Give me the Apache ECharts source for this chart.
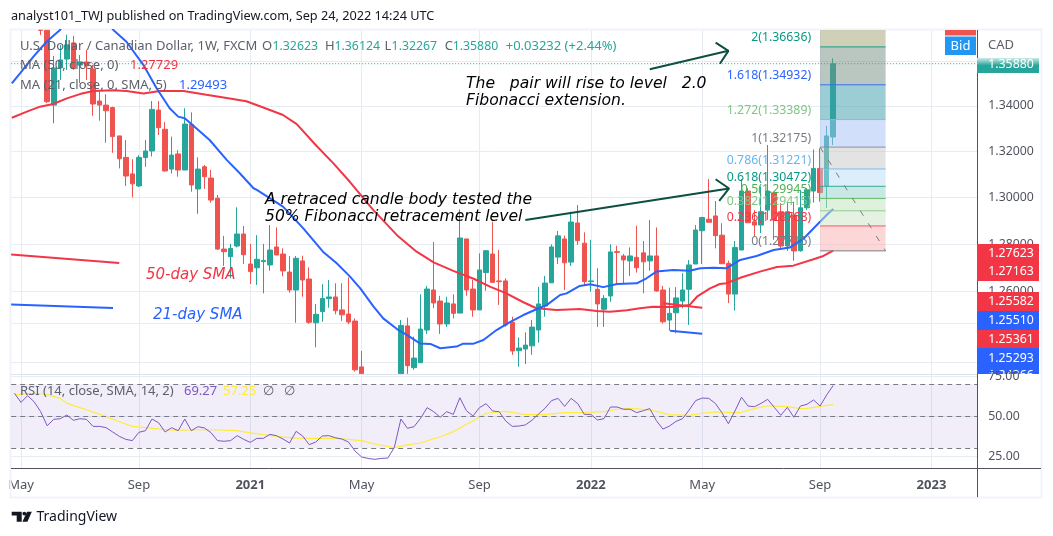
<!DOCTYPE html>
<html lang="en">

<head>
	<meta charset="UTF-8">
	<title>U.S. Dollar / Canadian Dollar, 1W</title>
	<script src="https://cdn.jsdelivr.net/npm/echarts@6/dist/echarts.min.js"></script>
	<style>
		html, body { margin: 0; padding: 0; background: #fff; }
	</style>
</head>

<body>
	<div id="main" style="width: 1053px;height: 536px;"></div>

	<script>
		// weekly candles, [open, close, low, high], week 0 = 27 Apr 2020
		// weeks 0-3 and 54-58 sit outside the visible price range, 4 and 5 are cut at the pane top
		var candles = [
			[1.4060,1.4100,1.3900,1.4170],[1.4100,1.3950,1.3860,1.4220],[1.3950,1.4090,1.3900,1.4160],[1.4090,1.3930,1.3860,1.4120],
			[1.3739,1.3739,1.3718,1.3739],[1.3739,1.3418,1.3412,1.3739],[1.3403,1.3569,1.3322,1.3623],[1.3569,1.3605,1.3515,1.3673],
			[1.3609,1.3673,1.3560,1.3719],[1.3682,1.3566,1.3560,1.3714],[1.3582,1.3596,1.3501,1.3627],[1.3596,1.3578,1.3515,1.3650],
			[1.3564,1.3408,1.3356,1.3582],[1.3421,1.3403,1.3334,1.3463],[1.3403,1.3378,1.3237,1.3451],[1.3392,1.3264,1.3193,1.3396],
			[1.3267,1.3167,1.3125,1.3267],[1.3173,1.3092,1.3049,1.3249],[1.3101,1.3058,1.3000,1.3165],[1.3049,1.3173,1.3044,1.3183],
			[1.3172,1.3201,1.3132,1.3249],[1.3201,1.3384,1.3177,1.3421],[1.3381,1.3303,1.3271,1.3421],[1.3296,1.3114,1.3111,1.3328],
			[1.3122,1.3183,1.3103,1.3264],[1.3188,1.3118,1.3089,1.3205],[1.3118,1.3319,1.3118,1.3389],[1.3318,1.3053,1.3024,1.3371],
			[1.3036,1.3122,1.2929,1.3173],[1.3132,1.3089,1.3036,1.3140],[1.3083,1.2988,1.2977,1.3118],[1.2996,1.2779,1.2775,1.3010],
			[1.2779,1.2768,1.2708,1.2835],[1.2747,1.2782,1.2656,1.2801],[1.2792,1.2843,1.2786,1.2957],[1.2843,1.2755,1.2716,1.2877],
			[1.2716,1.2684,1.2632,1.2801],[1.2700,1.2736,1.2628,1.2838],[1.2726,1.2731,1.2593,1.2801],[1.2712,1.2775,1.2688,1.2881],
			[1.2788,1.2754,1.2754,1.2871],[1.2758,1.2687,1.2664,1.2782],[1.2682,1.2607,1.2596,1.2750],[1.2607,1.2740,1.2471,1.2750],
			[1.2729,1.2649,1.2579,1.2751],[1.2653,1.2473,1.2466,1.2702],[1.2471,1.2506,1.2370,1.2549],[1.2517,1.2572,1.2475,1.2631],
			[1.2571,1.2578,1.2533,1.2649],[1.2578,1.2521,1.2506,1.2635],[1.2524,1.2504,1.2479,1.2635],[1.2507,1.2474,1.2465,1.2660],
			[1.2478,1.2278,1.2271,1.2489],[1.2290,1.2262,1.2258,1.2355],[1.2150,1.2100,1.2050,1.2200],[1.2100,1.2080,1.2010,1.2170],
			[1.2080,1.2060,1.2010,1.2150],[1.2060,1.2080,1.2010,1.2180],[1.2080,1.2180,1.2050,1.2240],[1.2262,1.2460,1.2258,1.2482],
			[1.2458,1.2295,1.2262,1.2492],[1.2287,1.2326,1.2278,1.2414],[1.2307,1.2445,1.2307,1.2589],[1.2441,1.2611,1.2425,1.2624],
			[1.2607,1.2553,1.2531,1.2809],[1.2561,1.2466,1.2425,1.2583],[1.2466,1.2553,1.2454,1.2579],[1.2549,1.2510,1.2489,1.2589],
			[1.2511,1.2826,1.2511,1.2948],[1.2822,1.2607,1.2583,1.2822],[1.2611,1.2524,1.2496,1.2649],[1.2524,1.2691,1.2524,1.2761],
			[1.2680,1.2772,1.2604,1.2775],[1.2758,1.2639,1.2639,1.2895],[1.2645,1.2642,1.2545,1.2775],[1.2645,1.2462,1.2454,1.2656],
			[1.2473,1.2355,1.2339,1.2496],[1.2356,1.2367,1.2291,1.2411],[1.2363,1.2379,1.2302,1.2431],[1.2376,1.2453,1.2339,1.2482],
			[1.2441,1.2549,1.2389,1.2620],[1.2540,1.2636,1.2496,1.2666],[1.2637,1.2788,1.2637,1.2799],[1.2745,1.2835,1.2716,1.2856],
			[1.2822,1.2721,1.2607,1.2836],[1.2724,1.2894,1.2708,1.2938],[1.2890,1.2815,1.2797,1.2967],[1.2804,1.2642,1.2624,1.2850],
			[1.2642,1.2645,1.2600,1.2818],[1.2610,1.2549,1.2454,1.2698],[1.2527,1.2572,1.2454,1.2586],[1.2582,1.2767,1.2558,1.2799],
			[1.2768,1.2765,1.2635,1.2793],[1.2750,1.2733,1.2635,1.2758],[1.2729,1.2750,1.2666,1.2786],[1.2744,1.2700,1.2680,1.2878],
			[1.2763,1.2725,1.2593,1.2813],[1.2729,1.2750,1.2688,1.2903],[1.2750,1.2603,1.2600,1.2871],[1.2607,1.2475,1.2468,1.2624],
			[1.2482,1.2510,1.2438,1.2617],[1.2512,1.2574,1.2428,1.2619],[1.2561,1.2607,1.2531,1.2677],[1.2610,1.2712,1.2462,1.2733],
			[1.2716,1.2860,1.2716,1.2881],[1.2857,1.2913,1.2716,1.2916],[1.2906,1.2893,1.2893,1.3079],[1.2920,1.2836,1.2782,1.2984],
			[1.2838,1.2717,1.2717,1.2889],[1.2719,1.2590,1.2552,1.2730],[1.2590,1.2786,1.2521,1.2813],[1.2775,1.3027,1.2775,1.3079],
			[1.3027,1.2891,1.2891,1.3040],[1.2895,1.2881,1.2832,1.2945],[1.2881,1.2938,1.2847,1.3046],[1.2945,1.3027,1.2903,1.3227],
			[1.3019,1.2903,1.2818,1.3023],[1.2938,1.2792,1.2775,1.2975],[1.2792,1.2938,1.2771,1.2975],[1.2924,1.2771,1.2730,1.2981],
			[1.2772,1.2955,1.2768,1.3032],[1.2955,1.3032,1.2945,1.3040],[1.3027,1.3125,1.2977,1.3208],[1.3125,1.3020,1.2981,1.3213],
			[1.3049,1.3267,1.2955,1.3311],[1.32623,1.35880,1.32267,1.36124]
		];

		// moving averages at these weeks
		var ma50Weeks = [-0.4,1.9,3.9,5.9,8,10,12,15,17.1,19.7,22.2,25.8,29.3,32.4,35.4,38.5,41,43.1,46.1,48.7,51.2,54.8,58.4,61.4,64,67,70.1,72.6,75.1,77.7,79.7,82.8,86.3,88.9,90.9,93.5,95.5,97.5,100.6,103.1,104.2,106.2,107.7,108.7,110.8,113.8,116.4,118.9,122,123.5,125];
		var ma50Values = [1.3347,1.3374,1.3396,1.3408,1.3433,1.3452,1.3466,1.3469,1.3466,1.3455,1.3466,1.3466,1.3449,1.3435,1.3420,1.3387,1.3359,1.3319,1.3224,1.3147,1.3067,1.2945,1.2838,1.2768,1.2723,1.2687,1.2654,1.2621,1.2593,1.2556,1.2531,1.2524,1.2528,1.2520,1.2517,1.2523,1.2531,1.2537,1.2536,1.2545,1.2579,1.2614,1.2632,1.2635,1.2658,1.2684,1.2703,1.2709,1.2736,1.2750,1.27729];
		var ma21Weeks = [-0.4,0.85,2.9,4.9,6.95,9,11,13,15.1,17.1,19.7,21.7,23.7,25,26,27.8,29.8,32.4,34.4,36.5,37,41,44.1,47.1,49.2,51.2,52.8,54.8,56.3,58.4,59.9,61.9,63.5,65,67.5,68.5,70.1,71.6,73.6,75.7,77.7,79.7,81.3,83.3,84.3,86.3,87.9,89.9,92,95,96.5,98,100.6,103.1,104.7,106.7,108.7,110.8,113.3,115.9,118.4,120.5,122.5,124,125];
		var ma21Values = [1.3500,1.3545,1.3620,1.3687,1.3741,1.3830,1.3860,1.3820,1.3741,1.3687,1.3582,1.3478,1.3389,1.3352,1.3345,1.3300,1.3249,1.3162,1.3104,1.3039,1.3032,1.2960,1.2867,1.2768,1.2719,1.2664,1.2614,1.2539,1.2489,1.2445,1.2421,1.2386,1.2384,1.2366,1.2373,1.2385,1.2385,1.2400,1.2441,1.2475,1.2503,1.2527,1.2545,1.2586,1.2593,1.2624,1.2631,1.2619,1.2632,1.2635,1.2656,1.2684,1.2691,1.2688,1.2698,1.2700,1.2698,1.2733,1.2750,1.2775,1.2786,1.2824,1.2881,1.2924,1.29493];

		// RSI per week and its moving average
		var rsiValues = [64.4,58.7,62.9,59.1,52.9,44.1,48.1,48.5,50.8,47.5,48.5,48.1,43.7,43.7,42.9,40.2,37.5,35.6,34.8,40,41,48.3,46,40.2,42.9,41,48.3,41,43.5,42.7,39.8,34.8,34.4,34.8,37.9,35.6,33.7,36.2,36.2,38.7,37.9,35.8,33.3,40.6,37.7,32.3,33.9,37.7,37.9,36.6,35.8,33.9,
			28.3,24.6,23.7,23.1,23.7,23.9,30.6,48.3,42.5,43.5,48.7,55.4,52.9,49.4,52.9,51.2,61.6,53.5,50.2,55.4,57.9,53.3,52.9,47.1,43.7,43.9,44.6,47.5,51.4,55,59.8,61.2,56.2,61.2,57.9,51.2,51.2,47.7,48.5,55.8,55.8,54.4,54.4,52.3,53.5,54.8,47.3,42,43.9,46.8,48.5,53.9,59.8,
			61.4,61.2,58.1,52.3,45.4,53.3,61.9,56.4,56,58.1,60.6,55.6,50.6,55.6,49.4,56.4,57.5,60.2,56.4,63.3,69.27];
		var rsiMaWeeks = [0,1,3,4,5,7,8,10,12,14,16,18,20,22,24,26,28,30,32,34,36,38,41,43,45,47,49,51,53,55,58,60,62,64,65,67,69,70,72,75,78,81,84,87,90,92,94,96,98,100,103,105,107,110,111,113,115,118,120,121,123,125];
		var rsiMaValues = [63.3,63.9,64.4,64.1,63.5,61.2,58.1,55.4,52.7,49.8,46.6,43.7,42.9,42.1,41.4,41.4,41.6,41.6,41.4,41,39.6,38.5,37,36.4,36.2,36.2,36.2,35.6,34.8,32.7,30.4,32.2,33.3,36,37.1,40.4,45,47.1,51.9,53.1,51,51,52.3,52.5,52.9,54.4,55,54.4,53.1,51,50.6,51.9,52.7,52.3,52.5,54.8,56.6,56,54.8,55,56.2,57.25];

		// time axis
		var tickWeeks = [1,19,36,53,71,88,105,123,140];
		var tickLabels = ['May','Sep','2021','May','Sep','2022','May','Sep','2023'];

		// price and RSI axes
		var priceLabels = [1.26,1.28,1.30,1.32,1.34];
		var priceGrid = [1.2309,1.2467,1.26,1.28,1.30,1.32,1.34,1.3597];
		var rsiLabels = [25,50];
		var rsiGrid = [25,50,75];
		var rsiBands = [30,50,70];

		// fibonacci tool
		var fibRatios = ['2','1.618','1.272','1','0.786','0.618','0.5','0.382','0.236','0'];
		var fibPrices = [1.36636,1.34932,1.33389,1.32175,1.31221,1.30472,1.29945,1.29415,1.28768,1.27715];
		var fibWeeks = [123,133];
		var fibTrendPrices = [1.32175,1.27715];

		// last price and drawn lines
		var lastPrice = 1.3588;
		var ohlcNames = ['O','H','L','C'];
		var ohlcValues = ['1.32623','1.36124','1.32267','1.35880'];
		var changeText = '+0.03232 (+2.44%)';
		var red50Key = [[-0.5,1.2756],[16,1.2720]];
		var blue21Key = [[-0.5,1.2547],[15.05,1.2532]];
		var red50Mid = [[99.05,1.2552],[105,1.2533]];
		var blue21Mid = [[100.1,1.2438],[105,1.2426]];
		var arrowLowLine = [[78,1.2903],[109.1,1.3038]];
		var arrowLowHead = [[107.05,1.3078],[109.1,1.3038],[107.6,1.2985]];
		var arrowHighLine = [[97,1.3563],[109,1.3646]];
		var arrowHighHead = [[107.05,1.3683],[109,1.3646],[107.7,1.3588]];

		// price tags at the right
		var tagTexts = ['1.27623','1.27163','1.25582','1.25510','1.25361','1.25293','1.24366'];
		var tagCenters = [253,271.5,301.5,320.5,339,358,375];
		var ohlcLefts = [262,325,384.6,444.7];
		var ohlcGaps = [10.5,9.5,7,8];

		var FONT = '"Noto Sans", sans-serif';
		var NUM = '12.3px ' + FONT;
		var UP = '#26a69a', DOWN = '#ef5350';
		var RED = '#f23645', BLUE = '#2962ff', GRID = '#e6ecf2', DARK = '#50535e', GREY = '#5d606b';
		var DRAWN = '#0d4f40';

		var fibLineColors = ['#089981','#2962ff','#81c784','#787b86','#64b5f6','#089981','#4caf50','#81c784','#f23645','#787b86'];
		var fibBandColors = ['rgba(161,161,113,.5)','rgba(115,143,129,.5)','rgba(59,155,169,.5)','rgba(165,191,247,.5)','rgba(199,199,199,.5)','rgba(185,219,247,.5)','rgba(147,209,199,.5)','rgba(191,225,185,.5)','rgba(203,229,195,.5)','rgba(251,175,175,.5)'];

		var priceMin = 1.22571, priceMax = 1.37405;

		function pairs(xs, ys) {
			return xs.map(function (x, i) { return [x, ys[i]]; });
		}

		function drawnLine(points, color, width) {
			return {
				type: 'line', data: points, showSymbol: false, silent: true, z: 4,
				lineStyle: { color: color, width: width }
			};
		}

		function renderFib(params, api) {
			var i = params.dataIndex;
			var upper = i === 0 ? priceMax : fibPrices[i - 1];
			var a = api.coord([fibWeeks[0], fibPrices[i]]);
			var b = api.coord([fibWeeks[1], upper]);
			return {
				type: 'group',
				children: [
					{ type: 'rect', shape: { x: a[0], y: b[1], width: b[0] - a[0], height: a[1] - b[1] }, style: { fill: fibBandColors[i] } },
					{ type: 'line', shape: { x1: a[0], y1: a[1], x2: b[0], y2: a[1] }, style: { stroke: fibLineColors[i], lineWidth: 1 } },
					{
						type: 'text',
						style: {
							x: a[0] - 9, y: a[1] - 3, align: 'right', verticalAlign: 'bottom',
							text: fibRatios[i] + '(' + fibPrices[i].toFixed(5) + ')',
							fill: fibLineColors[i], font: NUM
						}
					}
				]
			};
		}

		function label(x, y, text, fill, font, align) {
			return {
				type: 'text', z: 20, silent: true,
				style: { x: x, y: y, text: text, fill: fill, font: font || ('13px ' + FONT), align: align || 'left', verticalAlign: 'middle' }
			};
		}

		function box(x, y, w, h, fill) {
			return { type: 'rect', z: 19, silent: true, shape: { x: x, y: y, width: w, height: h }, style: { fill: fill } };
		}

		function rule(x1, y1, x2, y2, stroke) {
			return { type: 'line', z: 18, silent: true, shape: { x1: x1, y1: y1, x2: x2, y2: y2 }, style: { stroke: stroke, lineWidth: 1 } };
		}

		var ITALIC = 'italic 15.6px "DejaVu Sans"';
		var graphics = [
			{ type: 'rect', z: 1, silent: true, shape: { x: 10.5, y: 29.5, width: 1031, height: 468 }, style: { fill: 'none', stroke: '#f0f3fa', lineWidth: 2 } },
			rule(977.5, 30, 977.5, 497, DARK),
			rule(11, 468.5, 1041, 468.5, DARK),
			rule(11, 374.5, 977, 374.5, '#e0e3eb'),
			label(11, 16, 'analyst101_TWJ published on TradingView.com, Sep 24, 2022 14:24 UTC', '#131722', '12.7px ' + FONT),
			label(20, 46, 'U.S. Dollar / Canadian Dollar, 1W, FXCM', GREY),
			label(505.7, 46, changeText, UP),
			label(20, 65, 'MA (50, close, 0)', GREY),
			label(130, 65, '1.27729', RED),
			label(20, 85, 'MA (21, close, 0, SMA, 5)', GREY),
			label(179, 85, '1.29493', BLUE),
			label(20, 391, 'RSI (14, close, SMA, 14, 2)', GREY),
			label(184, 391, '69.27', '#7e57c2'),
			label(223, 391, '57.25', '#ffeb3b'),
			label(263, 391, '\u2205', GREY),
			label(284, 391, '\u2205', GREY),
			label(466, 84, 'The   pair will rise to level   2.0', '#000', ITALIC),
			label(466, 101, 'Fibonacci extension.', '#000', ITALIC),
			label(265, 200, 'A retraced candle body tested the', '#000', ITALIC),
			label(265, 217, '50% Fibonacci retracement level', '#000', ITALIC),
			label(146, 275, '50-day SMA', RED, 'italic 15px "DejaVu Sans"'),
			label(153, 315, '21-day SMA', BLUE, 'italic 15px "DejaVu Sans"'),
			label(988, 45, 'CAD', GREY),
			box(945, 30, 31, 5.5, DOWN),
			box(945, 36.5, 31, 18.5, '#2196f3'),
			label(960.5, 46, 'Bid', '#fff', '13px ' + FONT, 'center'),
			{
				type: 'rect', z: 19, silent: true, shape: { x: 977, y: 58, width: 62, height: 15 },
				style: { fill: new echarts.graphic.LinearGradient(0, 0, 0, 1, [{ offset: 0, color: '#cfeae6' }, { offset: 0.5, color: UP }, { offset: 1, color: UP }]) }
			},
			label(1011, 64.5, lastPrice.toFixed(5), '#fff', NUM, 'center'),
			box(977, 244, 62, 37, RED),
			box(977, 292, 62, 19, RED),
			box(977, 311, 62, 19, BLUE),
			box(977, 330, 62, 18, RED),
			box(977, 348, 62, 26, BLUE)
		];
		ohlcNames.forEach(function (n, i) {
			graphics.push(label(ohlcLefts[i], 46, n, GREY));
			graphics.push(label(ohlcLefts[i] + ohlcGaps[i], 46, ohlcValues[i], UP, NUM));
		});
		tagTexts.forEach(function (t, i) {
			graphics.push(label(1011, tagCenters[i], t, '#fff', NUM, 'center'));
		});
		graphics.push(label(988, 376.5, '75.00', DARK, NUM));
		// TradingView mark
		graphics.push(
			{ type: 'polygon', z: 20, silent: true, shape: { points: [[11.7, 511.7], [21.7, 511.7], [21.7, 521.7], [16.7, 521.7], [16.7, 515.5], [11.7, 515.5]] }, style: { fill: '#131722' } },
			{ type: 'circle', z: 20, silent: true, shape: { cx: 24.3, cy: 513.6, r: 1.9 }, style: { fill: '#131722' } },
			{ type: 'polygon', z: 20, silent: true, shape: { points: [[27, 511.7], [31.8, 511.7], [27.4, 521.7], [22.4, 521.7]] }, style: { fill: '#131722' } },
			label(36.5, 517, 'TradingView', '#131722', '14px ' + FONT)
		);

		var chartDom = document.getElementById('main');
		var myChart = echarts.init(chartDom);

		var option = {
			animation: false,
			backgroundColor: '#fff',
			grid: [
				{ left: 11.175, width: 966.125, top: 30, height: 345 },
				{ left: 11.175, width: 966.125, top: 375, height: 93 }
			],
			xAxis: [
				{
					type: 'value', gridIndex: 0, min: -0.5, max: 147,
					axisLine: { show: false },
					axisTick: { show: false, customValues: tickWeeks },
					axisLabel: { show: false, customValues: tickWeeks },
					splitLine: { show: true, lineStyle: { color: GRID } }
				},
				{
					type: 'value', gridIndex: 1, min: -0.5, max: 147,
					axisLine: { show: false },
					axisTick: { show: false, customValues: tickWeeks },
					axisLabel: {
						customValues: tickWeeks, margin: 9, color: DARK, fontFamily: FONT, fontSize: 13, lineHeight: 16,
						formatter: function (v) {
							var t = tickLabels[tickWeeks.indexOf(v)];
							return /^\d+$/.test(t) ? '{y|' + t + '}' : t;
						},
						rich: { y: { fontWeight: 'bold', color: DARK, fontFamily: FONT, fontSize: 13 } }
					},
					splitLine: { show: true, lineStyle: { color: GRID } }
				}
			],
			yAxis: [
				{
					type: 'log', logBase: Math.E, gridIndex: 0, position: 'right', min: priceMin, max: priceMax,
					axisLine: { show: false },
					axisTick: { show: false, customValues: priceGrid },
					axisLabel: {
						customValues: priceLabels, margin: 11, color: DARK, fontFamily: FONT, fontSize: 12.3,
						formatter: function (v) { return Number(v).toFixed(5); }
					},
					splitLine: { show: true, lineStyle: { color: GRID } }
				},
				{
					type: 'value', gridIndex: 1, position: 'right', min: 17.7, max: 75.8,
					axisLine: { show: false },
					axisTick: { show: false, customValues: rsiGrid },
					axisLabel: {
						customValues: rsiLabels, margin: 11, color: DARK, fontFamily: FONT, fontSize: 12.3,
						formatter: function (v) { return Number(v).toFixed(2); }
					},
					splitLine: { show: true, lineStyle: { color: GRID } }
				}
			],
			graphic: graphics,
			series: [
				{
					type: 'candlestick', xAxisIndex: 0, yAxisIndex: 0, barWidth: 5, z: 2,
					data: candles.map(function (c, i) { return [i, c[0], c[1], c[2], c[3]]; }),
					encode: { x: 0, y: [1, 2, 3, 4] },
					itemStyle: { color: UP, color0: DOWN, borderColor: UP, borderColor0: DOWN, borderWidth: 1 }
				},
				{
					type: 'line', data: pairs(ma50Weeks, ma50Values), showSymbol: false, silent: true, z: 3,
					lineStyle: { color: RED, width: 2 }
				},
				{
					type: 'line', data: pairs(ma21Weeks, ma21Values), showSymbol: false, silent: true, z: 3,
					lineStyle: { color: BLUE, width: 2 }
				},
				{
					type: 'custom', z: 5, silent: true, renderItem: renderFib,
					data: fibPrices.map(function (p) { return [fibWeeks[0], p]; }),
					encode: { x: 0, y: 1 }
				},
				{
					type: 'line', data: [[fibWeeks[0], fibTrendPrices[0]], [fibWeeks[1], fibTrendPrices[1]]],
					showSymbol: false, silent: true, z: 6,
					lineStyle: { color: '#787b86', width: 1, type: [6, 9] }
				},
				{
					type: 'line', data: [[-0.5, lastPrice], [147, lastPrice]], showSymbol: false, silent: true, z: 4,
					lineStyle: { color: UP, width: 1, type: [1, 2] }
				},
				drawnLine(red50Key, RED, 2),
				drawnLine(blue21Key, BLUE, 2),
				drawnLine(red50Mid, RED, 2),
				drawnLine(blue21Mid, BLUE, 2),
				drawnLine(arrowLowLine, DRAWN, 2),
				drawnLine(arrowLowHead, DRAWN, 2),
				drawnLine(arrowHighLine, DRAWN, 2),
				drawnLine(arrowHighHead, DRAWN, 2),
				{
					type: 'line', xAxisIndex: 1, yAxisIndex: 1, showSymbol: false, silent: true, z: 4,
					data: rsiValues.map(function (v, i) { return [i, v]; }),
					lineStyle: { color: '#7e57c2', width: 1 },
					markArea: {
						silent: true,
						itemStyle: { color: 'rgba(126,87,194,.1)' },
						data: [[{ yAxis: rsiBands[0] }, { yAxis: rsiBands[2] }]]
					},
					markLine: {
						silent: true, symbol: 'none', label: { show: false },
						lineStyle: { color: '#787b86', width: 1, type: [5, 4] },
						data: rsiBands.map(function (v) { return { yAxis: v }; })
					}
				},
				{
					type: 'line', xAxisIndex: 1, yAxisIndex: 1, showSymbol: false, silent: true, z: 3,
					data: pairs(rsiMaWeeks, rsiMaValues),
					lineStyle: { color: '#ffeb3b', width: 1.2 }
				}
			]
		};

		myChart.setOption(option);
	</script>
</body>

</html>
